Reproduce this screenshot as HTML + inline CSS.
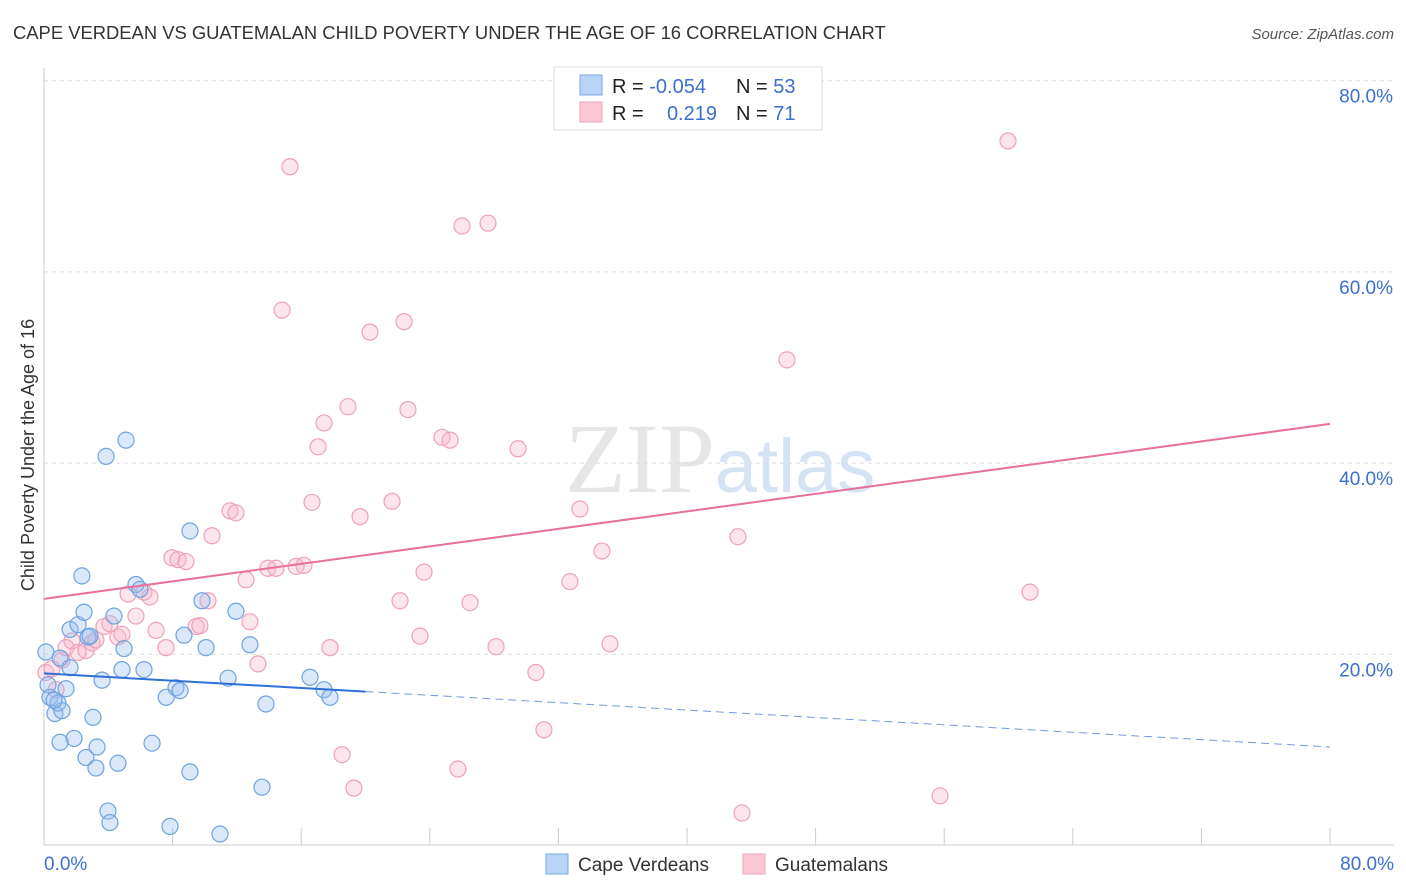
<!DOCTYPE html>
<html><head><meta charset="utf-8">
<style>
body{margin:0;background:#fff;font-family:"Liberation Sans",sans-serif;}
svg{display:block}
</style></head><body>
<svg id="chart" width="1406" height="892" xmlns="http://www.w3.org/2000/svg">
<text x="13" y="39" font-size="18.4" fill="#333">CAPE VERDEAN VS GUATEMALAN CHILD POVERTY UNDER THE AGE OF 16 CORRELATION CHART</text>
<text x="1394" y="39" font-size="15" fill="#555" text-anchor="end" font-style="italic">Source: ZipAtlas.com</text>
<text x="720" y="492" font-size="100" text-anchor="middle" fill="#e6e6e6" font-family="Liberation Serif,serif">ZIP<tspan fill="#d5e3f5" font-family="Liberation Sans,sans-serif" font-size="76">atlas</tspan></text>
<text transform="translate(34,455) rotate(-90)" font-size="18" fill="#333" text-anchor="middle">Child Poverty Under the Age of 16</text>
<g id="grid"></g>
<g id="marks"></g>
<g>
<rect x="554" y="67" width="268" height="63" fill="#fff" stroke="#ddd"/>
<rect x="580" y="75" width="22" height="20" fill="#b8d3f5" stroke="#7aa8e8"/>
<rect x="580" y="102" width="22" height="20" fill="#fcc8d6" stroke="#f0a0bb"/>
<text x="612" y="93" font-size="20" fill="#222">R = <tspan fill="#3b6fd0">-0.054</tspan></text>
<text x="736" y="93" font-size="20" fill="#222">N = <tspan fill="#3b6fd0">53</tspan></text>
<text x="612" y="120" font-size="20" fill="#222">R = </text>
<text x="717" y="120" font-size="20" fill="#3b6fd0" text-anchor="end">0.219</text>
<text x="736" y="120" font-size="20" fill="#222">N = <tspan fill="#3b6fd0">71</tspan></text>
</g>
<g>
<rect x="546" y="854" width="22" height="20" fill="#b8d3f5" stroke="#7aa8e8"/>
<text x="578" y="871" font-size="19" fill="#333">Cape Verdeans</text>
<rect x="743" y="854" width="22" height="20" fill="#fcc8d6" stroke="#f0a0bb"/>
<text x="775" y="871" font-size="19" fill="#333">Guatemalans</text>
</g>
</svg>
<script>
const yTicks=[20,40,60,80];
const yTickLabels=["20.0%","40.0%","60.0%","80.0%"];
const blueX=[0.12,0.25,0.37,0.68,0.87,1.12,1.0,1.37,1.62,1.62,2.12,1.87,1.0,2.36,2.49,2.74,2.86,2.61,3.05,3.3,3.23,3.61,3.86,3.98,4.1,4.35,4.6,4.85,4.98,5.1,5.72,5.97,6.22,6.72,7.6,8.21,8.46,8.71,9.08,9.08,9.83,10.08,7.84,10.95,11.45,11.94,12.81,13.56,13.81,16.55,17.42,17.79,0.62];
const blueY=[20.24,16.8,15.5,13.8,14.9,14.1,19.6,16.4,18.6,22.6,23.1,11.2,10.8,28.2,24.4,21.8,21.9,9.2,13.4,10.3,8.1,17.3,40.7,3.6,2.4,24.0,8.6,18.4,20.6,42.4,27.3,26.8,18.4,10.7,15.5,16.5,16.2,22.0,32.9,7.7,25.6,20.7,2.0,1.2,17.5,24.5,21.0,6.1,14.8,17.6,16.3,15.5,15.2];
const pinkX=[0.12,0.5,0.75,1.12,1.37,1.74,2.12,2.61,2.99,3.23,3.73,4.1,4.6,4.85,5.23,5.72,6.22,6.59,6.97,7.59,7.96,8.34,8.83,9.46,9.7,10.2,10.45,11.57,11.94,12.57,12.81,13.31,13.93,14.43,14.81,15.3,15.68,16.17,16.67,17.05,17.42,17.79,18.54,18.91,19.28,19.66,20.28,21.65,22.15,22.4,22.64,23.39,23.64,24.76,25.26,25.75,26.0,26.5,27.62,28.12,29.49,30.6,31.1,32.72,33.34,34.71,35.21,43.17,43.42,46.22,55.74,59.97,61.34];
const pinkY=[18.1,18.5,16.3,19.4,20.7,21.4,20.2,20.4,21.2,21.5,22.9,23.2,21.8,22.1,26.3,24.0,26.5,26.0,22.5,20.7,30.1,29.9,29.7,22.9,23.0,25.6,32.4,35.0,34.8,27.8,23.4,19.0,29.0,29.0,56.0,71.0,29.2,29.3,35.9,41.7,44.2,20.7,9.5,45.9,6.0,34.4,53.7,36.0,25.6,54.8,45.6,21.9,28.6,42.7,42.4,8.0,64.8,25.4,65.1,20.8,41.5,18.1,12.1,27.6,35.2,30.8,21.1,32.3,3.4,50.8,5.2,73.7,26.5];
const blueTrend=[[0,18.0],[20,16.1],[80,10.3]];
const pinkTrend=[[0,25.8],[80,44.1]];
const NS="http://www.w3.org/2000/svg";
const xs=v=>44+v*16.075, ys=v=>845.5-v*9.56;
function mk(tag,attrs,parent){const e=document.createElementNS(NS,tag);for(const k in attrs)e.setAttribute(k,attrs[k]);parent.appendChild(e);return e;}
const grid=document.getElementById('grid'), marks=document.getElementById('marks');
yTicks.forEach((t,i)=>{
  const l=mk('line',{x1:44,x2:1394,y1:ys(t),y2:ys(t),stroke:'#ddd','stroke-dasharray':'4,4'},grid);
  
  
  const tx=mk('text',{x:1393,y:ys(t)+22,'font-size':19,fill:'#3b6fd0','text-anchor':'end'},grid);
  tx.textContent=yTickLabels[i];
  
  
});
let ax=mk('line',{x1:44,x2:44,y1:68,y2:845,stroke:'#ccc'},grid);


ax=mk('line',{x1:44,x2:1394,y1:845,y2:845,stroke:'#ccc'},grid);


for(let k=0;k<=10;k++){
  const t=mk('line',{x1:xs(k*8),x2:xs(k*8),y1:828,y2:845,stroke:'#ccc'},grid);
  
  
}
[[0,'0.0%','start',44],[80,'80.0%','end',1394]].forEach(a=>{
  const t=mk('text',{x:a[3],y:870,'font-size':19,fill:'#3b6fd0','text-anchor':a[2]},grid);
  t.textContent=a[1];
  
  
});
pinkX.forEach((x,i)=>{
  const c=mk('circle',{cx:xs(x),cy:ys(pinkY[i]),r:8,fill:'rgba(248,180,200,0.35)',stroke:'#f0a0bb','stroke-width':1.2},marks);
  
  
});
blueX.forEach((x,i)=>{
  const c=mk('circle',{cx:xs(x),cy:ys(blueY[i]),r:8,fill:'rgba(150,190,240,0.35)',stroke:'#6fa3e0','stroke-width':1.2},marks);
  
  
});
let l=mk('line',{x1:xs(blueTrend[0][0]),y1:ys(blueTrend[0][1]),x2:xs(blueTrend[1][0]),y2:ys(blueTrend[1][1]),stroke:'#2f6fd6','stroke-width':2},marks);


l=mk('line',{x1:xs(blueTrend[1][0]),y1:ys(blueTrend[1][1]),x2:xs(blueTrend[2][0]),y2:ys(blueTrend[2][1]),stroke:'#6f9be0','stroke-width':1,'stroke-dasharray':'8,5'},marks);


l=mk('line',{x1:xs(pinkTrend[0][0]),y1:ys(pinkTrend[0][1]),x2:xs(pinkTrend[1][0]),y2:ys(pinkTrend[1][1]),stroke:'#e8709a','stroke-width':2},marks);


</script>
</body></html>
